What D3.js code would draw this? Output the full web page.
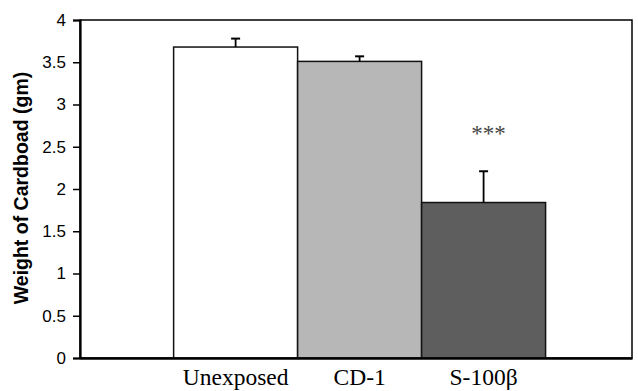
<!DOCTYPE html>
<html>
<head>
<meta charset="utf-8">
<script src="https://cdn.jsdelivr.net/npm/d3@7"></script>
<style>
body { margin: 0; background: #fff; }
svg { display: block; }
</style>
</head>
<body>
<div class="chart-container"></div>
<script>
// bar chart: cardboard weight per group, mean + upper error bar

var groups = ["Unexposed", "CD-1", "S-100\u03b2"]
var means = [3.68, 3.51, 1.84]
var errors = [0.10, 0.06, 0.37]
var fills = ["#ffffff", "#b7b7b7", "#5e5e5e"]
var yTicks = [0, 0.5, 1, 1.5, 2, 2.5, 3, 3.5, 4]
var stars = ["", "", "***"]

var margins = {
top: 20,
bottom: 33,
left: 80,
right: 6
}

var W = 638, H = 391
var width = W - margins.left - margins.right
var height = H - margins.top - margins.bottom

var svg = d3.select(".chart-container")
.append('svg')
.attr("width", W)
.attr("height", H)

var g = svg.append('g')
.attr("transform", "translate(" + margins.left + "," + margins.top + ")")

var xScale = d3.scaleBand().domain(groups).range([0, width])
.paddingInner(0).paddingOuter(0.726).align(0.52)
var yScale = d3.scaleLinear().domain([0, 4]).range([height, 0])

//box round the plot
g.append('rect')
.attr("x", 0).attr("y", 0)
.attr("width", width).attr("height", height)
.attr("fill", "none")
.attr("stroke", "#000")
.attr("stroke-width", 1.5)

//bars
g.selectAll('rect.bar')
.data(groups)
.enter()
.append('rect')
.attr("class", "bar")
.attr("x", function(d){return xScale(d)})
.attr("y", function(d, i){return yScale(means[i])})
.attr("width", xScale.bandwidth())
.attr("height", function(d, i){return height - yScale(means[i])})
.attr("fill", function(d, i){return fills[i]})
.attr("stroke", "#111")
.attr("stroke-width", 1.5)

//error bars
var capW = 9
groups.forEach(function(d, i){
var cx = xScale(d) + xScale.bandwidth()/2
g.append('line')
.attr("x1", cx).attr("x2", cx)
.attr("y1", yScale(means[i])).attr("y2", yScale(means[i] + errors[i]))
.attr("stroke", "#000").attr("stroke-width", 1.8)
g.append('line')
.attr("x1", cx - capW/2).attr("x2", cx + capW/2)
.attr("y1", yScale(means[i] + errors[i])).attr("y2", yScale(means[i] + errors[i]))
.attr("stroke", "#000").attr("stroke-width", 2)
if (stars[i]) {
g.append('text')
.attr("x", cx + 5)
.attr("y", yScale(means[i] + errors[i]) - 30)
.attr("text-anchor", "middle")
.attr("font-family", "Liberation Serif, Times New Roman, serif")
.attr("font-size", 23)
.attr("fill", "#444")
.text(stars[i])
}
})

//y axis
var yAxis = d3.axisLeft(yScale).tickValues(yTicks).tickSize(7).tickPadding(7)
.tickFormat(d3.format("~g"))
var ya = g.append('g').call(yAxis)
ya.select(".domain").attr("stroke-width", 2.2)
ya.selectAll(".tick line").attr("stroke-width", 1.5)
ya.selectAll("text")
.attr("font-family", "Liberation Sans, Arial, sans-serif")
.attr("font-size", 17)
.attr("fill", "#000")

//x axis, no ticks
var xAxis = d3.axisBottom(xScale).tickSize(0).tickPadding(10)
var xa = g.append('g').attr("transform", "translate(0," + height + ")").call(xAxis)
xa.select(".domain").attr("stroke-width", 2.5)
xa.selectAll("text")
.attr("font-family", "Liberation Serif, Times New Roman, serif")
.attr("font-size", 23.5)
.attr("fill", "#000")

//y label
svg.append('text')
.attr("transform", "translate(28,188) rotate(-90)")
.attr("text-anchor", "middle")
.attr("font-family", "Liberation Sans, Arial, sans-serif")
.attr("font-weight", "bold")
.attr("font-size", 19.5)
.text("Weight of Cardboad (gm)")
</script>
</body>
</html>
